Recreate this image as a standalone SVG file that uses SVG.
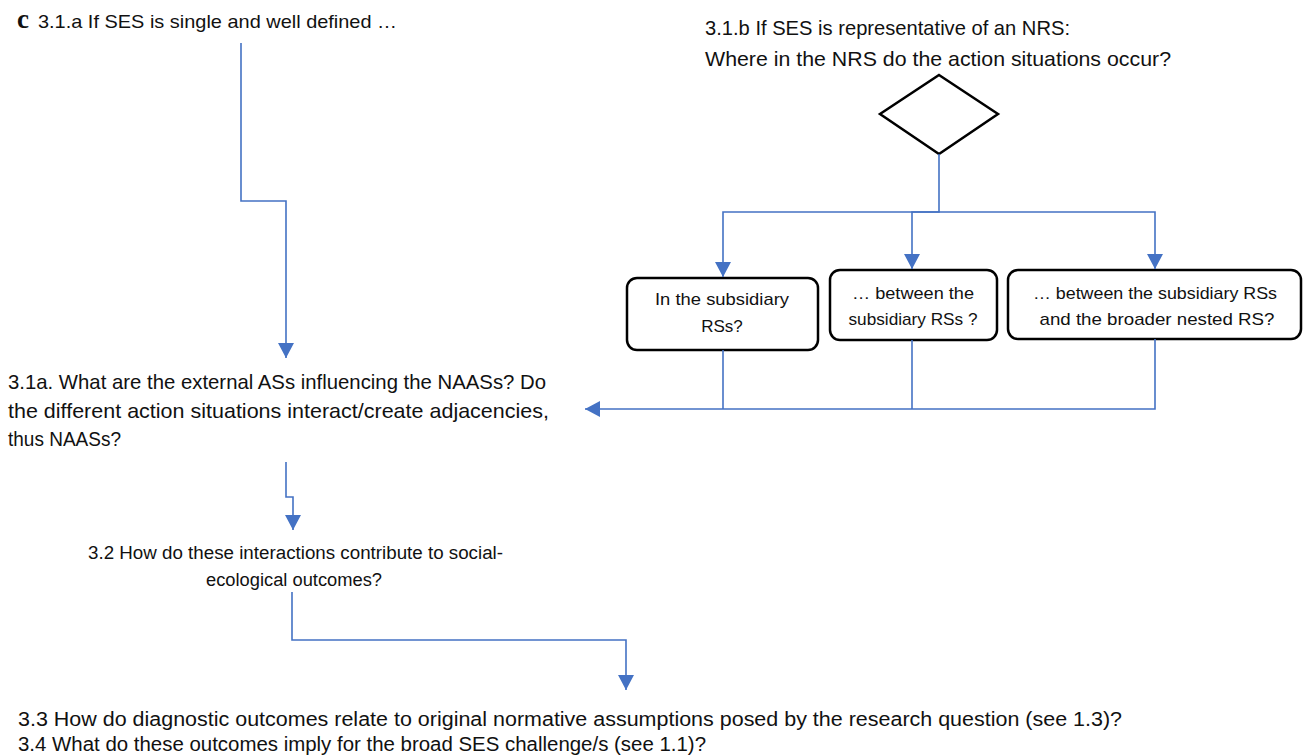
<svg xmlns="http://www.w3.org/2000/svg" width="1304" height="755" viewBox="0 0 1304 755">
<style>
text { font-family: "Liberation Sans", Arial, sans-serif; fill: #111; }
.t18 { font-size: 19px; }
.t20 { font-size: 21px; }
.tb { font-size: 17px; text-anchor: middle; }
.t32 { font-size: 18px; }
.t33 { font-size: 20px; }
.box { fill: #fff; stroke: #000; stroke-width: 2.5; }
.conn { fill: none; stroke: #4472C4; stroke-width: 1.6; }
</style>
<defs>
<marker id="arr" markerUnits="userSpaceOnUse" markerWidth="16" markerHeight="16" viewBox="0 0 16 16" refX="15" refY="8" orient="auto">
<path d="M0,0 L15,8 L0,16 Z" fill="#4472C4"/>
</marker>
</defs>
<rect width="1304" height="755" fill="#fff"/>

<g id="label-c"><text x="17" y="28" style="font-family:'Liberation Serif',serif;font-weight:bold;font-size:27px">c</text></g>

<g id="n-31a-intro"><text class="t18" x="38" y="28" textLength="359" lengthAdjust="spacingAndGlyphs">3.1.a If SES is single and well defined …</text></g>

<g id="n-31b-intro">
<text class="t20" x="705" y="35" textLength="365" lengthAdjust="spacingAndGlyphs">3.1.b If SES is representative of an NRS:</text>
<text class="t20" x="705" y="66" textLength="466" lengthAdjust="spacingAndGlyphs">Where in the NRS do the action situations occur?</text>
</g>

<g id="n-diamond"><polygon class="box" points="939,75 998,114 939,154 880,114"/></g>

<g id="n-box1">
<rect class="box" x="627" y="278" width="191" height="72" rx="10"/>
<text class="tb" x="722" y="305" textLength="134" lengthAdjust="spacingAndGlyphs">In the subsidiary</text>
<text class="tb" x="722" y="332">RSs?</text>
</g>
<g id="n-box2">
<rect class="box" x="830" y="270" width="167" height="70" rx="10"/>
<text class="tb" x="913" y="299" textLength="122" lengthAdjust="spacingAndGlyphs">… between the</text>
<text class="tb" x="913" y="325" textLength="129" lengthAdjust="spacingAndGlyphs">subsidiary RSs ?</text>
</g>
<g id="n-box3">
<rect class="box" x="1008" y="270" width="293" height="69" rx="10"/>
<text class="tb" x="1155" y="299" textLength="244" lengthAdjust="spacingAndGlyphs">… between the subsidiary RSs</text>
<text class="tb" x="1157" y="325" textLength="235" lengthAdjust="spacingAndGlyphs">and the broader nested RS?</text>
</g>

<g id="n-31a">
<text class="t20" x="8" y="389" textLength="538" lengthAdjust="spacingAndGlyphs">3.1a. What are the external ASs influencing the NAASs? Do</text>
<text class="t20" x="8" y="418" textLength="541" lengthAdjust="spacingAndGlyphs">the different action situations interact/create adjacencies,</text>
<text class="t20" x="8" y="446" textLength="113" lengthAdjust="spacingAndGlyphs">thus NAASs?</text>
</g>

<g id="n-32">
<text class="t32" x="88" y="559" textLength="415" lengthAdjust="spacingAndGlyphs">3.2 How do these interactions contribute to social-</text>
<text class="t32" x="294" y="586" text-anchor="middle" textLength="176" lengthAdjust="spacingAndGlyphs">ecological outcomes?</text>
</g>

<g id="n-33">
<text class="t33" x="18" y="726" textLength="1104" lengthAdjust="spacingAndGlyphs">3.3 How do diagnostic outcomes relate to original normative assumptions posed by the research question (see 1.3)?</text>
<text class="t33" x="18" y="751" textLength="688" lengthAdjust="spacingAndGlyphs">3.4 What do these outcomes imply for the broad SES challenge/s (see 1.1)?</text>
</g>

<g id="connectors">
<path class="conn" d="M241,43 V201 H286 V358" marker-end="url(#arr)"/>
<path class="conn" d="M939,154 V212 H723 V277" marker-end="url(#arr)"/>
<path class="conn" d="M939,212 H912 V269" marker-end="url(#arr)"/>
<path class="conn" d="M939,212 H1155 V269" marker-end="url(#arr)"/>
<path class="conn" d="M723,350 V409"/>
<path class="conn" d="M912,340 V409"/>
<path class="conn" d="M1155,339 V409 H585" marker-end="url(#arr)"/>
<path class="conn" d="M286,462 V497 H293 V530" marker-end="url(#arr)"/>
<path class="conn" d="M292,592 V640 H626 V690" marker-end="url(#arr)"/>
</g>
</svg>
